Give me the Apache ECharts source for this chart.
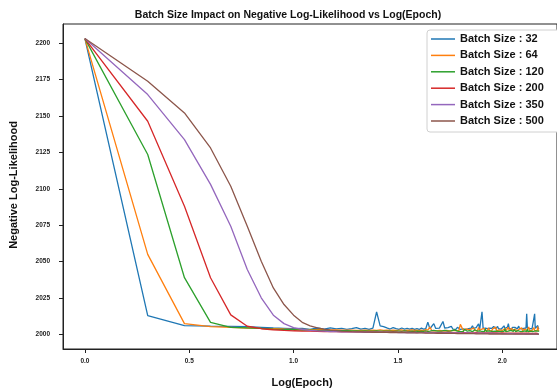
<!DOCTYPE html>
<html><head><meta charset="utf-8">
<script src="https://cdn.jsdelivr.net/npm/echarts@6/dist/echarts.min.js"></script>
<style>html,body{margin:0;padding:0;background:#fff}#c{width:557px;height:389px}</style>
</head><body><div id="c"></div>
<script>
const epochs = [1,2,3,4,5,6,7,8,9,10,11,12,13,14,15,16,17,18,19,20,21,22,23,24,25,26,27,28,29,30,31,32,33,34,35,36,37,38,39,40,41,42,43,44,45,46,47,48,49,50,51,52,53,54,55,56,57,58,59,60,61,62,63,64,65,66,67,68,69,70,71,72,73,74,75,76,77,78,79,80,81,82,83,84,85,86,87,88,89,90,91,92,93,94,95,96,97,98,99,100,101,102,103,104,105,106,107,108,109,110,111,112,113,114,115,116,117,118,119,120,121,122,123,124,125,126,127,128,129,130,131,132,133,134,135,136,137,138,139,140,141,142,143,144,145,146,147,148,149,150];
const seriesNames = ["Batch Size : 32","Batch Size : 64","Batch Size : 120","Batch Size : 200","Batch Size : 350","Batch Size : 500"];
const xTickValues = [0, 0.5, 1.0, 1.5, 2.0];
const yTickValues = [2000, 2025, 2050, 2075, 2100, 2125, 2150, 2175, 2200];

const bs32 = [2203,2013,2006.2,2005.8,2005.6,2005.4,2005,2004.6,2004.3,2004,
2004.2,2003.6,2004.5,2003.8,2004.6,2003.9,2004.3,2003.5,2004.1,2004.8,
2003.7,2004.2,2003.6,2004.4,2015.6,2006,2005.5,2004.6,2003.8,2004.7,
2004,2003.6,2004.5,2003.8,2004.2,2003.7,2004.3,2003.6,2004.1,2003.5,
2004.4,2003.8,2004,2008.5,2004,2003.8,2007.5,2004.2,2003.6,2004.4,
2005,2009,2004.5,2003.7,2004.8,2004,2005.6,2003.8,2004.2,2003.6,
2005,2004.1,2003.5,2004.6,2003.9,2004.3,2003.4,2004.7,2004,2003.6,
2004.4,2006,2004.2,2003.5,2004.8,2003.7,2007.4,2003.9,2004.3,2015.6,
2004.1,2003.6,2004.5,2003.8,2004.1,2003.5,2004.4,2003.9,2004.2,2003.6,
2005.5,2006.8,2004,2003.7,2005.6,2004,2003.5,2004.4,2003.8,2004.6,
2003.7,2006,2004.1,2003.6,2004.8,2005.2,2007.5,2004.3,2003.7,2004.2,
2003.6,2005,2004.1,2003.8,2004.9,2004.2,2005.3,2003.9,2004.4,2005.8,
2004.1,2003.6,2004.7,2004,2005.1,2003.8,2004.3,2004.9,2003.7,2004.5,
2014.2,2004.3,2003.9,2005.2,2004.1,2003.7,2004.6,2005.4,2004,2003.8,
2004.5,2005,2014.2,2004.2,2003.7,2004.6,2005.3,2006.2,2003.9,2004.4];

const bs64 = [2203,2055,2007.5,2005.5,2005,2004.5,2004.2,2004,2003.8,2003.6,
2003.5,2003.4,2003.3,2003.3,2003.2,2003.2,2003.1,2003,2003,2002.9,
2002.9,2003.1,2002.8,2003,2002.9,2003.2,2002.8,2003,2002.9,2003.1,
2002.8,2003,2003.2,2002.7,2003,2002.9,2003.3,2002.8,2003,2002.7,
2003.1,2002.6,2003.4,2003,2005.2,2002.8,2003.3,2002.6,2003.5,2002.9,
2003.2,2002.5,2003.6,2002.8,2003.1,2002.6,2003.8,2002.9,2003.2,2002.7,
2004,2002.8,2007,2006.5,2003,2002.6,2003.9,2002.8,2003.4,2002.6,
2003.8,2002.9,2004.5,2002.7,2003.2,2002.5,2004.8,2003,2002.6,2003.7,
2002.8,2004.2,2002.6,2003.3,2002.9,2004.6,2002.7,2003.1,2002.5,2003.9,
2002.8,2003.3,2005.1,2002.6,2003.5,2002.9,2003.2,2002.5,2004.3,2002.8,
2003.6,2002.7,2004.1,2002.6,2003.2,2002.9,2005,2002.7,2003.4,2002.6,
2004.4,2002.8,2003.1,2002.5,2003.7,2002.9,2004.9,2002.6,2003.3,2002.8,
2003.9,2002.6,2003.2,2004.6,2002.7,2003.4,2002.5,2003.8,2002.9,2004.2,
2002.6,2003.3,2002.8,2005.2,2002.7,2003.6,2002.5,2004,2002.8,2003.2,
2002.6,2004.7,2002.9,2003.4,2002.6,2003.9,2002.7,2005.5,2002.8,2003.3];

const bs120 = [2203,2123.5,2039,2008.4,2005,2004.6,2004.2,2003.8,2003.5,2003.3,
2003.1,2003,2002.9,2002.8,2002.7,2002.7,2002.6,2002.6,2002.5,2002.5,
2002.4,2002.5,2002.4,2002.3,2002.5,2002.4,2002.3,2002.4,2002.3,2002.2,
2002.4,2002.3,2002.2,2002.5,2002.3,2002.2,2002.4,2002.2,2002.3,2002.1,
2002.3,2002.2,2002.6,2002.1,2002.3,2002.2,2002.8,2002.1,2002.3,2002.2,
2002.4,2002.1,2002.9,2002.2,2002.3,2002,2002.5,2002.2,2003.2,2002.1,
2002.3,2002.6,2002.1,2002.4,2002,2003.5,2002.2,2002.3,2002.1,2002.7,
2002.2,2002,2002.4,2003.3,2002.1,2002.3,2002,2002.6,2002.2,2002.1,
2002.4,2002,2003.6,2002.2,2002.1,2002.5,2002,2002.3,2002.8,2002.1,
2002.2,2002,2002.4,2002.1,2003.4,2002.2,2002,2002.3,2002.1,2002.6,
2002,2002.2,2003.8,2002.1,2002.3,2002,2002.4,2002.1,2002.2,2002.9,
2002,2002.3,2002.1,2003.5,2002.2,2002,2002.4,2002.1,2002.7,2002,
2002.3,2002.1,2002.2,2003.2,2002,2002.3,2002.1,2002.5,2002,2002.2,
2002.1,2003.7,2002,2002.3,2002.1,2002.4,2002,2002.2,2003.4,2002.1,
2002,2002.3,2002.1,2002.6,2002,2003.9,2002.2,2002.1,2002.4,2002];

const bs200 = [2203,2146.3,2088,2039,2013.5,2005.7,2004,2003.3,2002.9,2002.6,
2002.4,2002.3,2002.2,2002.1,2002,2002,2001.9,2001.9,2001.8,2001.8,
2001.8,2001.7,2001.8,2001.7,2001.7,2001.6,2001.7,2001.6,2001.6,2001.7,
2001.6,2001.5,2001.6,2001.5,2001.6,2001.5,2001.5,2001.6,2001.4,2001.5,
2001.5,2001.4,2001.6,2001.4,2001.5,2001.4,2001.4,2001.5,2001.3,2001.4,
2001.4,2001.3,2001.5,2001.3,2001.4,2001.3,2001.4,2001.3,2001.2,2001.4,
2001.3,2001.3,2001.2,2001.4,2001.3,2001.2,2001.3,2001.2,2001.3,2001.2,
2001.2,2001.3,2001.2,2001.1,2001.3,2001.2,2001.1,2001.2,2001.2,2001.1,
2001.2,2001.1,2001.2,2001.1,2001.1,2001.2,2001.1,2001.0,2001.2,2001.1,
2001.1,2001.0,2001.1,2001.1,2001.0,2001.2,2001.0,2001.1,2001.0,2001.1,
2001.0,2001.1,2001.0,2001.0,2001.1,2000.9,2001.0,2001.1,2000.9,2001.0,
2001.0,2000.9,2001.1,2000.9,2001.0,2000.9,2001.0,2000.9,2001.0,2000.9,
2000.9,2001.0,2000.9,2000.9,2001.0,2000.8,2000.9,2001.0,2000.8,2000.9,
2000.9,2000.8,2000.9,2000.9,2000.8,2001.0,2000.8,2000.9,2000.8,2000.9,
2000.8,2000.9,2000.8,2000.8,2000.9,2000.8,2000.8,2000.9,2000.7,2000.8];

const bs350 = [2203,2164.6,2133.7,2103,2074.3,2044.6,2025.2,2013.3,2007.5,2004.8,
2003.5,2002.9,2002.5,2002.3,2002.1,2002,2001.9,2001.9,2001.8,2001.8,
2001.7,2001.7,2001.6,2001.7,2001.6,2001.6,2001.5,2001.6,2001.5,2001.5,
2001.5,2001.4,2001.5,2001.4,2001.4,2001.5,2001.3,2001.4,2001.4,2001.3,
2001.4,2001.3,2001.3,2001.4,2001.3,2001.2,2001.3,2001.3,2001.2,2001.3,
2001.2,2001.2,2001.3,2001.2,2001.1,2001.2,2001.2,2001.1,2001.2,2001.1,
2001.1,2001.2,2001.1,2001.1,2001.0,2001.1,2001.1,2001.0,2001.1,2001.0,
2001.0,2001.1,2001.0,2001.0,2000.9,2001.0,2001.0,2000.9,2001.0,2000.9,
2000.9,2001.0,2000.9,2000.9,2000.8,2000.9,2000.9,2000.8,2000.9,2000.8,
2000.8,2000.9,2000.8,2000.8,2000.7,2000.8,2000.8,2000.7,2000.8,2000.7,
2000.7,2000.8,2000.7,2000.7,2000.6,2000.7,2000.7,2000.6,2000.7,2000.6,
2000.6,2000.7,2000.6,2000.6,2000.5,2000.6,2000.6,2000.5,2000.6,2000.5,
2000.5,2000.6,2000.5,2000.5,2000.4,2000.5,2000.5,2000.4,2000.5,2000.4,
2000.4,2000.5,2000.4,2000.4,2000.3,2000.4,2000.4,2000.3,2000.4,2000.3,
2000.3,2000.4,2000.3,2000.3,2000.2,2000.3,2000.3,2000.2,2000.3,2000.2];

const bs500 = [2203,2173.7,2152,2128,2101.7,2074.3,2050.3,2032,2020.6,2013.3,
2008.4,2006,2004.6,2003.7,2003.1,2002.7,2002.4,2002.2,2002,2001.9,
2001.8,2001.7,2001.7,2001.6,2001.6,2001.5,2001.5,2001.5,2001.4,2001.4,
2001.4,2001.3,2001.3,2001.3,2001.2,2001.2,2001.2,2001.2,2001.1,2001.1,
2001.1,2001.1,2001.0,2001.0,2001.0,2001.0,2001.0,2000.9,2000.9,2000.9,
2000.9,2000.9,2000.9,2000.8,2000.8,2000.8,2000.8,2000.8,2000.8,2000.7,
2000.7,2000.7,2000.7,2000.7,2000.7,2000.6,2000.6,2000.6,2000.6,2000.6,
2000.6,2000.6,2000.6,2000.6,2000.5,2000.5,2000.5,2000.5,2000.5,2000.5,
2000.5,2000.5,2000.5,2000.5,2000.5,2000.4,2000.4,2000.4,2000.4,2000.4,
2000.4,2000.4,2000.4,2000.4,2000.4,2000.4,2000.4,2000.4,2000.4,2000.4,
2000.4,2000.4,2000.4,2000.4,2000.3,2000.3,2000.3,2000.3,2000.3,2000.3,
2000.3,2000.3,2000.3,2000.3,2000.3,2000.3,2000.3,2000.3,2000.3,2000.3,
2000.3,2000.3,2000.3,2000.3,2000.3,2000.3,2000.3,2000.3,2000.3,2000.3,
2000.3,2000.3,2000.3,2000.3,2000.3,2000.3,2000.3,2000.3,2000.3,2000.3,
2000.3,2000.3,2000.3,2000.3,2000.3,2000.3,2000.3,2000.3,2000.3,2000.3];

const allValues = [bs32, bs64, bs120, bs200, bs350, bs500];
const colors = ['#1f77b4','#ff7f0e','#2ca02c','#d62728','#9467bd','#8c564b'];
const FONT = '"Liberation Sans", Arial, sans-serif';

const chart = echarts.init(document.getElementById('c'), null, {renderer:'canvas'});
chart.setOption({
  animation: false,
  backgroundColor: '#fff',
  grid: {left: 63, right: -2, top: 24, bottom: 40, show: true, borderColor: '#222', borderWidth: 1, backgroundColor: 'transparent'},
  xAxis: {
    type: 'value', min: -0.105, max: 2.2625,
    axisLine: {show: true, onZero: false, lineStyle: {color: '#222', width: 1}},
    axisTick: {show: true, length: 4, customValues: xTickValues, lineStyle: {color: '#222'}},
    axisLabel: {customValues: xTickValues, margin: 9, fontSize: 6.5, fontWeight: 'bold', color: '#222', fontFamily: FONT,
      formatter: v => Number(v).toFixed(1)},
    splitLine: {show: false}
  },
  yAxis: {
    type: 'value', min: 1990.1, max: 2213,
    axisLine: {show: true, onZero: false, lineStyle: {color: '#222', width: 1}},
    axisTick: {show: true, length: 4, customValues: yTickValues, lineStyle: {color: '#222'}},
    axisLabel: {customValues: yTickValues, margin: 13, fontSize: 6.5, fontWeight: 'bold', color: '#222', fontFamily: FONT,
      formatter: v => String(Math.round(v))},
    splitLine: {show: false}
  },
  legend: {
    orient: 'vertical', left: 427, top: 30,
    data: seriesNames,
    icon: 'rect', itemWidth: 24, itemHeight: 1.5, itemGap: 4.4,
    padding: [3, 20, 5, 4],
    backgroundColor: '#fff', borderColor: '#d0d0d0', borderWidth: 1, borderRadius: 3,
    textStyle: {fontSize: 11, fontWeight: 'bold', color: '#111', fontFamily: FONT, lineHeight: 12}
  },
  graphic: [
    {type: 'text', x: 288, y: 15, style: {text: 'Batch Size Impact on Negative Log-Likelihood vs Log(Epoch)', textAlign: 'center', textVerticalAlign: 'middle', font: 'bold 10.5px ' + FONT, fill: '#111'}},
    {type: 'text', x: 302, y: 383, style: {text: 'Log(Epoch)', textAlign: 'center', textVerticalAlign: 'middle', font: 'bold 11px ' + FONT, fill: '#111'}},
    {type: 'text', x: 14, y: 185, rotation: Math.PI/2, style: {text: 'Negative Log-Likelihood', textAlign: 'center', textVerticalAlign: 'middle', font: 'bold 11px ' + FONT, fill: '#111'}}
  ],
  series: allValues.map((vals, k) => ({
    name: seriesNames[k], type: 'line', showSymbol: false, symbol: 'none',
    color: colors[k],
    lineStyle: {width: 1.3, color: colors[k]},
    data: epochs.map((e, i) => [Math.log10(e), vals[i]])
  }))
});
</script></body></html>
